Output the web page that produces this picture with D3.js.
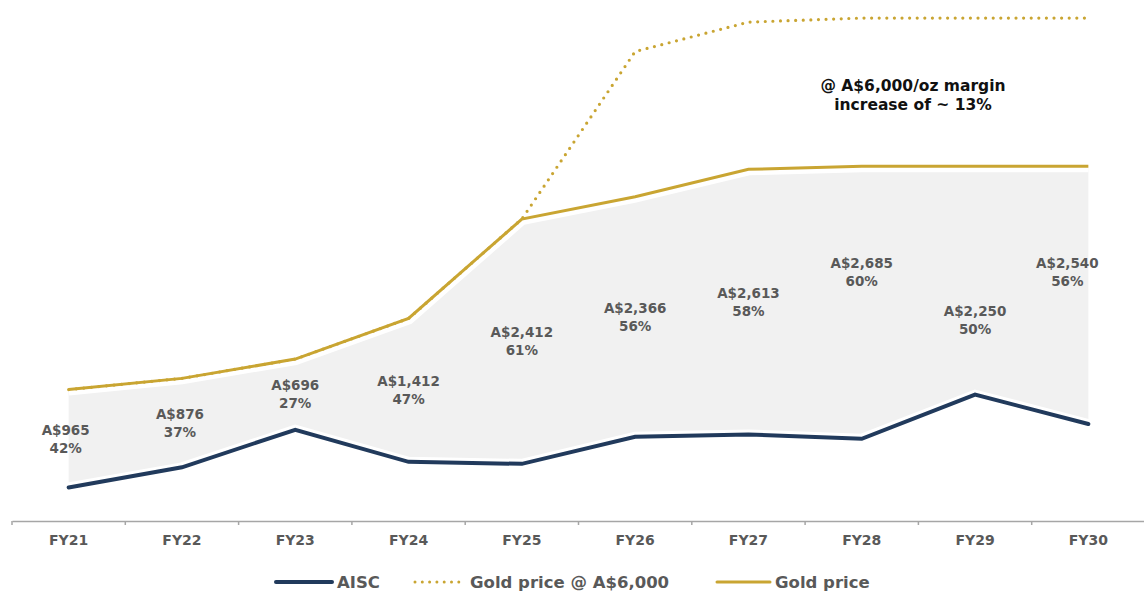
<!DOCTYPE html>
<html>
<head>
<meta charset="utf-8">
<script src="https://cdn.jsdelivr.net/npm/d3@7"></script>
<style>
  body { margin: 0; background: #fff; }
  svg text { font-family: "DejaVu Sans", sans-serif; font-weight: bold; }
</style>
</head>
<body>
<div id="chart"></div>
<script>
// chart data
const years = ["FY21", "FY22", "FY23", "FY24", "FY25", "FY26", "FY27", "FY28", "FY29", "FY30"];
const goldPrice = [2300, 2410, 2600, 3000, 3980, 4200, 4470, 4500, 4500, 4500];
const goldPrice6000 = [2300, 2410, 2600, 3000, 3980, 5630, 5920, 5960, 5960, 5960];
const margin = [965, 876, 696, 1412, 2412, 2366, 2613, 2685, 2250, 2540];
const marginPct = [42, 37, 27, 47, 61, 56, 58, 60, 50, 56];
const aisc = goldPrice.map((g, i) => g - margin[i]);
const legendNames = ["AISC", "Gold price @ A$6,000", "Gold price"];

// layout tweaks for the margin labels (px)
const labelNudge = [[-3, 0], [-2, 0], [0, 0], [0, 0], [0, 0], [0, 0], [0, 0], [0, -31], [0, 40], [-21, -23]];

const svgWidth = 1144, svgHeight = 600;
const navy = "#213a5c", gold = "#c9a532", grey = "#595959";

const svg = d3.select("#chart").append("svg")
    .attr("width", svgWidth)
    .attr("height", svgHeight);

const x = d3.scaleBand().domain(years).range([12, 1145]).padding(0);
const y = d3.scaleLinear().domain([0, 6000]).range([623, 14]);
const cx = d => x(d) + x.bandwidth() / 2;

// shaded margin area
const area = d3.area()
    .x((d, i) => cx(years[i]))
    .y0((d, i) => y(aisc[i]))
    .y1((d, i) => y(goldPrice[i]));

svg.append("path")
    .datum(years)
    .attr("d", area)
    .attr("fill", "#f1f1f1");

const line = vals => d3.line()
    .x((d, i) => cx(years[i]))
    .y(d => y(d))(vals);

// white halo under the lines so the area sits apart
svg.append("path").attr("d", line(goldPrice))
    .attr("fill", "none").attr("stroke", "#fff").attr("stroke-width", 12);
svg.append("path").attr("d", line(aisc))
    .attr("fill", "none").attr("stroke", "#fff").attr("stroke-width", 10);

svg.append("path").attr("d", line(goldPrice))
    .attr("fill", "none").attr("stroke", gold).attr("stroke-width", 3);

svg.append("path")
    .attr("d", line(goldPrice6000))
    .attr("fill", "none").attr("stroke", gold).attr("stroke-width", 3.2)
    .attr("stroke-linecap", "round").attr("stroke-linejoin", "round")
    .attr("stroke-dasharray", "0 7.6");

svg.append("path").attr("d", line(aisc))
    .attr("fill", "none").attr("stroke", navy).attr("stroke-width", 4)
    .attr("stroke-linecap", "round");

// margin labels
const labels = svg.append("g").attr("fill", grey).attr("font-size", 13.5).attr("text-anchor", "middle");
years.forEach((yr, i) => {
    const mid = (y(aisc[i]) + y(goldPrice[i])) / 2 + labelNudge[i][1];
    const lx = cx(yr) + labelNudge[i][0];
    labels.append("text").attr("x", lx).attr("y", mid - 4).text("A$" + d3.format(",")(margin[i]));
    labels.append("text").attr("x", lx).attr("y", mid + 14).text(marginPct[i] + "%");
});

// x axis
const axis = svg.append("g")
    .attr("transform", "translate(0,521)")
    .call(d3.axisBottom(x).tickSize(0).tickPadding(14));
axis.select(".domain").attr("stroke", "#a6a6a6").attr("stroke-width", 1.5);
axis.selectAll(".tick text")
    .attr("fill", grey).attr("font-size", 14)
    .style("font-family", "DejaVu Sans").style("font-weight", "bold");
axis.selectAll(".edge")
    .data(d3.range(years.length + 1))
    .enter().append("line")
    .attr("x1", i => 12 + i * x.step()).attr("x2", i => 12 + i * x.step())
    .attr("y1", 0).attr("y2", 4)
    .attr("stroke", "#a6a6a6").attr("stroke-width", 1.5);

// annotation
svg.append("text")
    .attr("x", 913).attr("y", 91)
    .attr("text-anchor", "middle").attr("font-size", 15.5).attr("fill", "#111")
    .selectAll("tspan")
    .data(["@ A$6,000/oz margin", "increase of ~ 13%"])
    .enter().append("tspan")
    .attr("x", 913).attr("dy", (d, i) => i ? 19 : 0)
    .text(d => d);

// legend
const legend = svg.append("g").attr("font-size", 16.5).attr("fill", grey);
const legendItems = [
    { x: 276, w: 56, color: navy, width: 4, dash: null },
    { x: 415, w: 50, color: gold, width: 3, dash: "0 7.3" },
    { x: 717, w: 53, color: gold, width: 3, dash: null }
];
legendItems.forEach((it, i) => {
    legend.append("line")
        .attr("x1", it.x).attr("x2", it.x + it.w)
        .attr("y1", 582).attr("y2", 582)
        .attr("stroke", it.color).attr("stroke-width", it.width)
        .attr("stroke-linecap", "round")
        .attr("stroke-dasharray", it.dash);
    legend.append("text")
        .attr("x", it.x + it.w + 5).attr("y", 588)
        .text(legendNames[i]);
});
</script>
</body>
</html>
